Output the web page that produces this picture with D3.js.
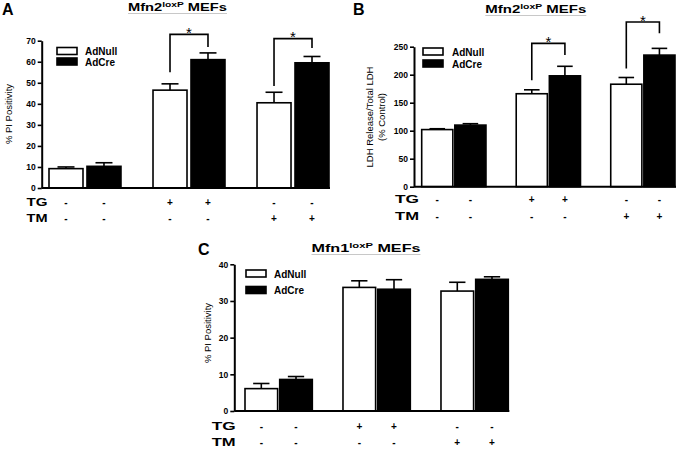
<!DOCTYPE html>
<html><head><meta charset="utf-8">
<script src="https://cdn.jsdelivr.net/npm/d3@7"></script>
<style>
body{margin:0;background:#fff;}
svg{display:block;font-family:"Liberation Sans",Arial,sans-serif;}
</style></head>
<body><svg id="c" width="683" height="449"></svg>
<script>
// ---- data ----
const groups = ["G1", "G2", "G3"];
const series = ["AdNull", "AdCre"];
const tgSigns = ["-", "-", "+", "+", "-", "-"];
const tmSigns = ["-", "-", "-", "-", "+", "+"];

const aTicks = [0, 10, 20, 30, 40, 50, 60, 70];
const aNull = [9.2, 46.5, 40.5];
const aNullErr = [0.8, 3.0, 5.0];
const aCre = [10.3, 61.0, 59.5];
const aCreErr = [1.7, 3.2, 3.0];
const aBrackets = [{g: "G2", left: 55, top: 73, right: 67}, {g: "G3", left: 48.5, top: 71, right: 66.5}];

const bTicks = [0, 50, 100, 150, 200, 250];
const bNull = [102, 166, 183];
const bNullErr = [1.5, 7, 12];
const bCre = [110, 198, 235];
const bCreErr = [2.5, 17, 12];
const bBrackets = [{g: "G2", left: 190, top: 256, right: 235}, {g: "G3", left: 211, top: 294, right: 274}];

const cTicks = [0, 10, 20, 30, 40];
const cNull = [6.1, 33.7, 32.7];
const cNullErr = [1.4, 1.8, 2.4];
const cCre = [8.6, 33.2, 35.9];
const cCreErr = [0.8, 2.6, 0.7];
const cBrackets = [];

const svg = d3.select("#c");

function drawPanel(p) {
  const g = svg.append("g");
  const y = d3.scaleLinear().domain([0, p.max]).range([p.yBottom, p.yTop]);
  const gx = d3.scaleBand().domain(groups).range([p.barsStart, p.barsEnd]).paddingInner(p.groupPad).paddingOuter(0);
  const sx = d3.scaleBand().domain(series).range([0, gx.bandwidth()]).paddingInner(p.barPad).paddingOuter(0);

  const rows = [];
  groups.forEach((gr, i) => {
    rows.push({g: gr, s: "AdNull", v: p.nul[i], e: p.nulErr[i], idx: i * 2});
    rows.push({g: gr, s: "AdCre", v: p.cre[i], e: p.creErr[i], idx: i * 2 + 1});
  });
  const cx = d => gx(d.g) + sx(d.s) + sx.bandwidth() / 2;

  // error bars (behind)
  const eb = g.append("g").attr("stroke", "#000").attr("stroke-width", 1.6);
  rows.forEach(d => {
    eb.append("line").attr("x1", cx(d)).attr("x2", cx(d)).attr("y1", y(d.v)).attr("y2", y(d.v + d.e));
    eb.append("line").attr("x1", cx(d) - sx.bandwidth() / 4).attr("x2", cx(d) + sx.bandwidth() / 4)
      .attr("y1", y(d.v + d.e)).attr("y2", y(d.v + d.e));
  });
  // bars
  g.append("g").selectAll("rect").data(rows).join("rect")
    .attr("x", d => gx(d.g) + sx(d.s)).attr("width", sx.bandwidth())
    .attr("y", d => y(d.v)).attr("height", d => y(0) - y(d.v))
    .attr("fill", d => d.s === "AdNull" ? "#fff" : "#000")
    .attr("stroke", "#000").attr("stroke-width", 1.6);

  // y axis
  const ax = g.append("g").attr("transform", `translate(${p.axisX},0)`)
    .call(d3.axisLeft(y).tickValues(p.ticks).tickSize(4).tickSizeOuter(0).tickPadding(2));
  ax.select(".domain").attr("stroke-width", 2);
  ax.selectAll(".tick line").attr("stroke-width", 1.6);
  ax.selectAll(".tick text").attr("font-size", 8.5).attr("font-weight", "bold")
    .attr("font-family", "Liberation Sans, Arial, sans-serif").attr("fill", "#000");
  // x axis line
  g.append("line").attr("x1", p.axisX).attr("x2", p.barsEnd + 1).attr("y1", y(0)).attr("y2", y(0))
    .attr("stroke", "#000").attr("stroke-width", 2);

  // y label
  const yl = g.append("text").attr("transform", `translate(${p.ylabel.x},${p.ylabel.y}) rotate(-90)`)
    .attr("text-anchor", "middle").attr("font-size", 9.5).attr("fill", "#000");
  p.ylabel.lines.forEach((t, i) => {
    yl.append("tspan").attr("x", 0).attr("dy", i === 0 ? 0 : 12.5).text(t);
  });

  // legend
  series.forEach((s, i) => {
    const ly = p.legend.y + i * p.legend.dy;
    g.append("rect").attr("x", p.legend.x).attr("y", ly).attr("width", 20).attr("height", 7)
      .attr("fill", s === "AdNull" ? "#fff" : "#000").attr("stroke", "#000").attr("stroke-width", 1.6);
    g.append("text").attr("x", p.legend.x + p.legend.tx).attr("y", ly + 7.5).attr("font-size", 10)
      .attr("font-weight", "bold").text(s);
  });

  // brackets
  p.brackets.forEach(b => {
    const xl = gx(b.g) + sx("AdNull") + sx.bandwidth() / 2;
    const xr = gx(b.g) + sx("AdCre") + sx.bandwidth() / 2;
    g.append("path").attr("d", `M${xl},${y(b.left)}V${y(b.top)}H${xr}V${y(b.right)}`)
      .attr("fill", "none").attr("stroke", "#000").attr("stroke-width", 1.6);
    g.append("text").attr("x", (xl + xr) / 2).attr("y", y(b.top) + 3.5).attr("text-anchor", "middle")
      .attr("font-size", 15).text("*");
  });

  // treatment rows
  [["TG", tgSigns, p.rows.y1], ["TM", tmSigns, p.rows.y2]].forEach(([lab, signs, yy]) => {
    g.append("text").attr("x", p.rows.x).attr("y", yy).attr("font-size", 10).attr("font-weight", "bold")
      .attr("textLength", p.rows.w).attr("lengthAdjust", "spacingAndGlyphs").text(lab);
    rows.forEach(d => {
      g.append("text").attr("x", cx(d)).attr("y", yy).attr("text-anchor", "middle")
        .attr("font-size", 10).attr("font-weight", "bold").text(signs[d.idx]);
    });
  });

  // title
  const tx0 = p.title.cx - p.title.w / 2;
  const tt = g.append("text").attr("x", tx0).attr("y", p.title.y).attr("font-size", 11.5).attr("font-weight", "bold")
    .attr("textLength", p.title.w).attr("lengthAdjust", "spacingAndGlyphs");
  tt.append("tspan").text(p.title.main);
  tt.append("tspan").attr("font-size", 8).attr("dy", -4).text("loxP");
  tt.append("tspan").attr("dy", 4).text("\u00a0MEFs");
  g.append("line").attr("x1", tx0).attr("x2", tx0 + p.title.w).attr("y1", p.title.y + 2.5).attr("y2", p.title.y + 2.5)
    .attr("stroke", "#c8c8c8").attr("stroke-width", 1);

  // panel letter
  g.append("text").attr("x", p.letter.x).attr("y", p.letter.y).attr("font-size", 16)
    .attr("font-weight", "bold").text(p.letter.t);
}

drawPanel({
  max: 70, ticks: aTicks, nul: aNull, nulErr: aNullErr, cre: aCre, creErr: aCreErr, brackets: aBrackets,
  axisX: 41.7, barsStart: 49, barsEnd: 329, yTop: 40.7, yBottom: 188, groupPad: 0.308, barPad: 0.105,
  legend: {x: 57, y: 47.5, dy: 10.5, tx: 28},
  ylabel: {x: 11.5, y: 114, lines: ["% PI Positivity"]},
  rows: {x: 26.5, y1: 206, y2: 222, w: 21},
  title: {cx: 177.5, y: 11, w: 99, main: "Mfn2"},
  letter: {x: 2, y: 14.5, t: "A"}
});
drawPanel({
  max: 250, ticks: bTicks, nul: bNull, nulErr: bNullErr, cre: bCre, creErr: bCreErr, brackets: bBrackets,
  axisX: 414, barsStart: 421.7, barsEnd: 675, yTop: 46.7, yBottom: 186.7, groupPad: 0.32, barPad: 0.06,
  legend: {x: 423, y: 48, dy: 12, tx: 29},
  ylabel: {x: 372.5, y: 117, lines: ["LDH Release/Total LDH", "(% Control)"]},
  rows: {x: 395, y1: 202.7, y2: 220, w: 24},
  title: {cx: 535.8, y: 13, w: 101, main: "Mfn2"},
  letter: {x: 353, y: 14.5, t: "B"}
});
drawPanel({
  max: 40, ticks: cTicks, nul: cNull, nulErr: cNullErr, cre: cCre, creErr: cCreErr, brackets: cBrackets,
  axisX: 234.3, barsStart: 245, barsEnd: 508.3, yTop: 264.3, yBottom: 411, groupPad: 0.313, barPad: 0.06,
  legend: {x: 246, y: 270, dy: 16.5, tx: 28},
  ylabel: {x: 211, y: 333, lines: ["% PI Positivity"]},
  rows: {x: 211.7, y1: 430, y2: 446, w: 24},
  title: {cx: 366, y: 252, w: 109, main: "Mfn1"},
  letter: {x: 198, y: 255, t: "C"}
});
</script></body></html>
